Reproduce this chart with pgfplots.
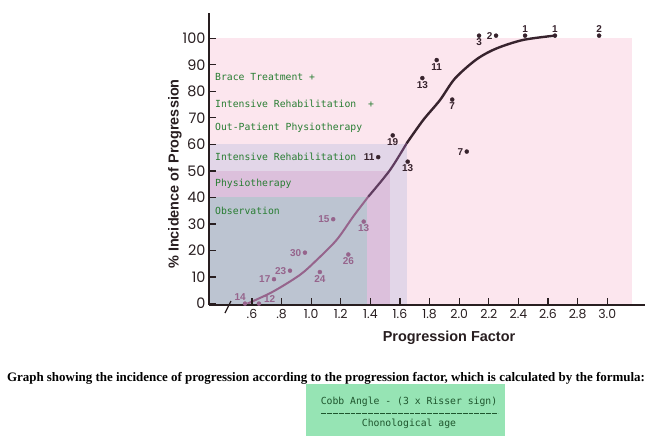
\documentclass[border=0pt]{standalone}
\usepackage{fontspec}
\usepackage{graphicx}
\usepackage{pgfplots}
\pgfplotsset{compat=1.18}
\setmainfont{Liberation Sans}
\newfontfamily\monof{DejaVu Sans Mono}
\newfontfamily\tickf{Poppins}
\newfontfamily\capf{Liberation Serif}

\definecolor{bgpink}{RGB}{252,230,238}
\definecolor{rehab}{RGB}{226,214,232}
\definecolor{physio}{RGB}{220,192,220}
\definecolor{observ}{RGB}{188,196,209}
\definecolor{txtgreen}{RGB}{40,125,50}
\definecolor{curvedark}{RGB}{55,35,45}
\definecolor{curvemid}{RGB}{95,60,95}
\definecolor{mauve}{RGB}{150,100,140}
\definecolor{axiscol}{RGB}{40,30,32}
\definecolor{boxgreen}{RGB}{150,228,180}
\definecolor{formulagreen}{RGB}{30,85,45}

\pgfplotsset{
  grouplabel/.style={only marks, mark=*, mark size=2bp,
    point meta=explicit symbolic, nodes near coords},
}

\begin{document}
\begin{tikzpicture}
\useasboundingbox (0,0) rectangle (650bp,-445bp);
\begin{axis}[
  at={(209bp,-304.9bp)}, anchor=south west,
  scale only axis, width=436bp, height=291.8bp,
  xmin=0.31, xmax=3.255, ymin=-0.5, ymax=109.5,
  axis x line=bottom, axis y line=left,
  axis line style={-, line width=1.3bp, axiscol},
  axis on top,
  clip=false,
  xtick={0.6,0.8,1.0,1.2,1.4,1.6,1.8,2.0,2.2,2.4,2.6,2.8,3.0},
  xticklabels={.6,.8,1.0,1.2,1.4,1.6,1.8,2.0,2.2,2.4,2.6,2.8,3.0},
  ytick={0,10,...,100},
  tick align=inside,
  major tick length=7bp,
  tick style={line width=1.2bp, axiscol},
  xticklabel style={font=\tickf\fontsize{12.5}{12.5}\selectfont, text=axiscol, yshift=-1bp},
  yticklabel style={font=\tickf\fontsize{14.5}{14.5}\selectfont, text=axiscol},
  /pgf/number format/assume math mode=true,
]
% treatment bands
\fill[bgpink] (axis cs:0.31,0) rectangle (axis cs:3.17,100);
\fill[rehab]  (axis cs:0.31,0) rectangle (axis cs:1.647,60);
\fill[physio] (axis cs:0.31,0) rectangle (axis cs:1.53,50);
\fill[observ] (axis cs:0.31,0) rectangle (axis cs:1.38,40);

% incidence curve
\addplot[mauve, line width=2bp, smooth, mark=none] coordinates {
  (0.57,0) (0.742,4.5) (0.924,10.8) (1.037,16.4) (1.172,24.0) (1.284,32.8) (1.386,40.3)};
\addplot[curvemid, line width=2.2bp, smooth, mark=none] coordinates {
  (1.386,40.3) (1.532,50.3) (1.645,60.4)};
\addplot[curvedark, line width=2.4bp, smooth, mark=none] coordinates {
  (1.645,60.4) (1.757,69.2) (1.870,76.7) (1.972,84.9) (2.118,92.1) (2.253,96.2) (2.433,99.4) (2.645,101)};

% observed groups, label below
\addplot[grouplabel, curvedark,
  nodes near coords style={anchor=north, inner sep=0pt, yshift=-3bp,
    font=\bfseries\fontsize{10}{10}\selectfont, text=curvedark}]
  table[meta=lab, row sep=\\] {
  x y lab \\
  2.134 101 3 \\
  1.848 91.8 11 \\
  1.751 85.0 13 \\
  1.953 76.9 7 \\
  1.551 63.4 19 \\
  1.652 53.5 13 \\
};
% label above
\addplot[grouplabel, curvedark,
  nodes near coords style={anchor=south, inner sep=0pt, yshift=2.5bp,
    font=\bfseries\fontsize{10}{10}\selectfont, text=curvedark}]
  table[meta=lab, row sep=\\] {
  x y lab \\
  2.445 101 1 \\
  2.647 101 1 \\
  2.945 101 2 \\
};
% label left
\addplot[grouplabel, curvedark,
  nodes near coords style={anchor=east, inner sep=0pt, xshift=-3.5bp,
    font=\bfseries\fontsize{10}{10}\selectfont, text=curvedark}]
  table[meta=lab, row sep=\\] {
  x y lab \\
  2.249 101 2 \\
  2.051 57.3 7 \\
  1.453 55.2 11 \\
};
% lower groups, label left
\addplot[grouplabel, mauve,
  nodes near coords style={anchor=east, inner sep=0pt, xshift=-3.5bp,
    font=\bfseries\fontsize{10}{10}\selectfont, text=mauve}]
  table[meta=lab, row sep=\\] {
  x y lab \\
  1.149 31.8 15 \\
  0.958 19.2 30 \\
  0.857 12.4 23 \\
  0.749 9.2 17 \\
};
% lower groups, label below
\addplot[grouplabel, mauve,
  nodes near coords style={anchor=north, inner sep=0pt, yshift=-3bp,
    font=\bfseries\fontsize{10}{10}\selectfont, text=mauve}]
  table[meta=lab, row sep=\\] {
  x y lab \\
  1.355 30.9 13 \\
  1.251 18.5 26 \\
  1.059 11.9 24 \\
};
\addplot[grouplabel, mauve,
  nodes near coords style={anchor=south east, inner sep=0pt, xshift=1bp, yshift=3bp,
    font=\bfseries\fontsize{10}{10}\selectfont, text=mauve}]
  table[meta=lab, row sep=\\] {
  x y lab \\
  0.553 0 14 \\
};
\addplot[grouplabel, mauve,
  nodes near coords style={anchor=south west, inner sep=0pt, xshift=5bp, yshift=1bp,
    font=\bfseries\fontsize{10}{10}\selectfont, text=mauve}]
  table[meta=lab, row sep=\\] {
  x y lab \\
  0.647 0 12 \\
};
\end{axis}

% axis break
\draw[axiscol, line width=1.2bp] (225bp,-313bp) -- (231bp,-301bp);

% treatment band names
\begin{scope}[every node/.style={anchor=west, inner sep=0pt, text=txtgreen,
    font=\monof\fontsize{9.8}{10}\selectfont}]
\node at (215bp,-77bp)  {Brace Treatment +};
\node at (215bp,-104bp) {Intensive Rehabilitation\ \ +};
\node at (215bp,-128bp) {Out-Patient Physiotherapy};
\node at (215bp,-157bp) {Intensive Rehabilitation};
\node at (215bp,-184bp) {Physiotherapy};
\node at (215bp,-211bp) {Observation};
\end{scope}

% axis titles
\node[rotate=90, text=axiscol, font=\bfseries\fontsize{14.5}{15}\selectfont] at (175bp,-174bp) {\% Incidence of Progression};
\node[text=axiscol, font=\bfseries\fontsize{14.5}{15}\selectfont] at (449bp,-338bp) {Progression Factor};

% caption and formula
\node[inner sep=0pt] at (326bp,-378bp) {\resizebox{638bp}{!}{\capf\bfseries Graph showing the incidence of progression according to the progression factor, which is calculated by the formula:}};
\fill[boxgreen] (306bp,-384bp) rectangle (505bp,-436bp);
\draw[formulagreen, line width=0.6bp, dash pattern=on 4.9bp off 1bp] (321bp,-413bp) -- (498bp,-413bp);
\begin{scope}[every node/.style={inner sep=0pt, text=formulagreen,
    font=\monof\fontsize{9.8}{10}\selectfont}]
\node at (409bp,-401.7bp) {Cobb Angle - (3 x Risser sign)};
\node at (409bp,-424bp) {Chonological age};
\end{scope}
\end{tikzpicture}
\end{document}
